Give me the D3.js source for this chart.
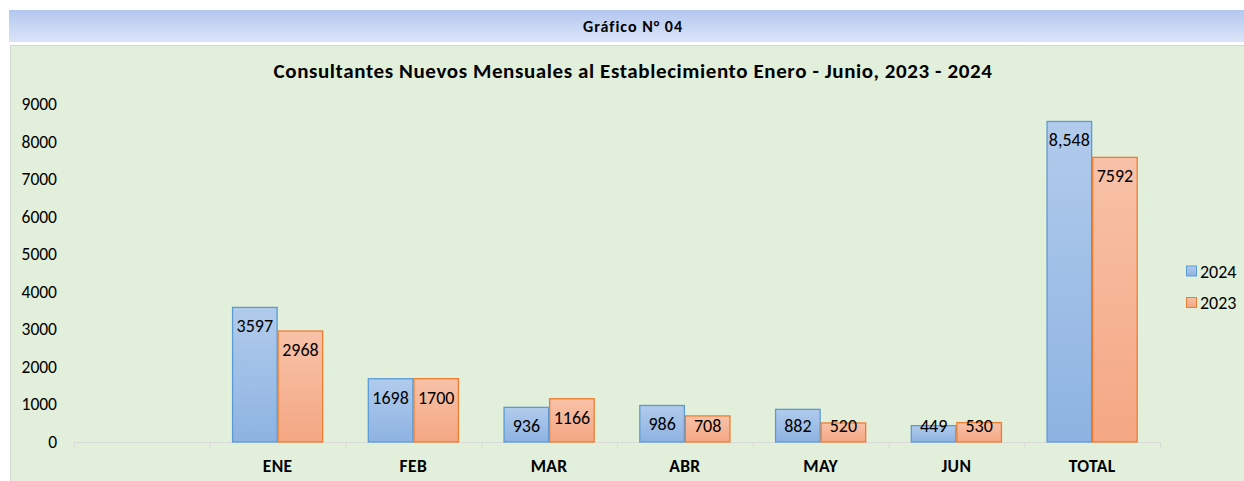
<!DOCTYPE html>
<html lang="es">
<head>
<meta charset="UTF-8">
<title>Gráfico N° 04</title>
<script src="https://d3js.org/d3.v7.min.js"></script>
<style>
  body { margin: 0; background: #ffffff; font-family: Calibri, Carlito, Lato, "Liberation Sans", sans-serif; }
  svg { display: block; }
</style>
</head>
<body>
<svg id="chart" width="1244" height="481"></svg>
<script>
// datos del grafico
var months = ["", "ENE", "FEB", "MAR", "ABR", "MAY", "JUN", "TOTAL"];
var series = ["2024", "2023"];
var values2024 = [null, 3597, 1698, 936, 986, 882, 449, 8548];
var values2023 = [null, 2968, 1700, 1166, 708, 520, 530, 7592];
var labels2024 = ["", "3597", "1698", "936", "986", "882", "449", "8,548"];
var labels2023 = ["", "2968", "1700", "1166", "708", "520", "530", "7592"];
var yTicks = [0, 1000, 2000, 3000, 4000, 5000, 6000, 7000, 8000, 9000];

var svg = d3.select("#chart"),
    W = 1244, H = 481,
    plotL = 74, plotR = 1160, plotT = 104, plotB = 442;

var defs = svg.append("defs");
function grad(id, c1, c2) {
  var g = defs.append("linearGradient").attr("id", id)
    .attr("x1", 0).attr("y1", 0).attr("x2", 0).attr("y2", 1);
  g.append("stop").attr("offset", "0%").attr("stop-color", c1);
  g.append("stop").attr("offset", "100%").attr("stop-color", c2);
}
grad("hdr", "#b3c6ef", "#dbe5f8");
grad("gBlue", "#b1cbeb", "#8db3e2");
grad("gOrange", "#f8c2a8", "#f4a783");

// cabecera
svg.append("rect").attr("x", 9).attr("y", 10).attr("width", W - 9).attr("height", 32)
  .attr("fill", "url(#hdr)");
svg.append("text").attr("x", 633).attr("y", 32).attr("text-anchor", "middle")
  .attr("font-size", 16).attr("font-weight", "bold").attr("letter-spacing", 1).attr("fill", "#000")
  .text("Gráfico N° 04");

// panel verde
svg.append("rect").attr("x", 10.5).attr("y", 45.5).attr("width", W - 10).attr("height", H - 45)
  .attr("fill", "#e2efda").attr("stroke", "#d4d4d4");

svg.append("text").attr("x", 633).attr("y", 78).attr("text-anchor", "middle")
  .attr("font-size", 21).attr("font-weight", "bold").attr("letter-spacing", 0.6).attr("fill", "#000")
  .text("Consultantes Nuevos Mensuales al Establecimiento Enero - Junio, 2023 - 2024");

var x = d3.scaleBand().domain(d3.range(months.length)).range([plotL, plotR]).paddingInner(0).paddingOuter(0);
var x1 = d3.scaleBand().domain(series).range([0, x.bandwidth()]).paddingOuter(0.49).paddingInner(0);
var y = d3.scaleLinear().domain([0, 9000]).range([plotB, plotT]);

// eje y (solo etiquetas)
svg.append("g").selectAll("text").data(yTicks).join("text")
  .attr("x", 57).attr("y", function (d) { return y(d) + 6; })
  .attr("text-anchor", "end").attr("font-size", 17.5).attr("fill", "#000")
  .text(function (d) { return d; });

// eje x
var xAxis = d3.axisBottom(d3.scaleLinear().domain([0, months.length]).range([plotL, plotR]))
  .tickValues(d3.range(months.length + 1)).tickSize(5).tickFormat("");
var gx = svg.append("g").attr("transform", "translate(0," + (plotB + 0.5) + ")").call(xAxis);
gx.selectAll("path, line").attr("stroke", "#d9d9d9");
gx.select(".domain").attr("d", "M" + plotL + ",0H" + plotR);

svg.append("g").selectAll("text").data(months).join("text")
  .attr("x", function (d, i) { return x(i) + x.bandwidth() / 2; })
  .attr("y", 472).attr("text-anchor", "middle")
  .attr("font-size", 17.5).attr("font-weight", "bold").attr("letter-spacing", 0.4).attr("fill", "#000")
  .text(function (d) { return d; });

// barras
var rows = [];
months.forEach(function (m, i) {
  if (values2024[i] == null) return;
  rows.push({ i: i, s: "2024", v: values2024[i], lab: labels2024[i], fill: "url(#gBlue)", stroke: "#5b9bd5" });
  rows.push({ i: i, s: "2023", v: values2023[i], lab: labels2023[i], fill: "url(#gOrange)", stroke: "#ed7d31" });
});

var bars = svg.append("g");
bars.selectAll("rect").data(rows).join("rect")
  .attr("x", function (d) { return x(d.i) + x1(d.s) + 0.5; })
  .attr("y", function (d) { return y(d.v) + 0.5; })
  .attr("width", x1.bandwidth() - 1)
  .attr("height", function (d) { return plotB - y(d.v) - 0.5; })
  .attr("fill", function (d) { return d.fill; })
  .attr("stroke", function (d) { return d.stroke; })
  .attr("stroke-width", 1.3);

bars.selectAll("text").data(rows).join("text")
  .attr("x", function (d) { return x(d.i) + x1(d.s) + x1.bandwidth() / 2; })
  .attr("y", function (d) { return Math.min(y(d.v) + 19.5, plotB - 16.5) + 6; })
  .attr("text-anchor", "middle").attr("font-size", 18).attr("fill", "#000")
  .text(function (d) { return d.lab; });

// leyenda
var leg = svg.append("g").selectAll("g").data(series).join("g")
  .attr("transform", function (d, i) { return "translate(1186," + (265.5 + i * 31.5) + ")"; });
leg.append("rect").attr("x", 0.5).attr("y", 0.5).attr("width", 10).attr("height", 10)
  .attr("fill", function (d, i) { return i == 0 ? "url(#gBlue)" : "url(#gOrange)"; })
  .attr("stroke", function (d, i) { return i == 0 ? "#5b9bd5" : "#ed7d31"; });
leg.append("text").attr("x", 14).attr("y", 12).attr("font-size", 18).attr("fill", "#000")
  .text(function (d) { return d; });
</script>
</body>
</html>
